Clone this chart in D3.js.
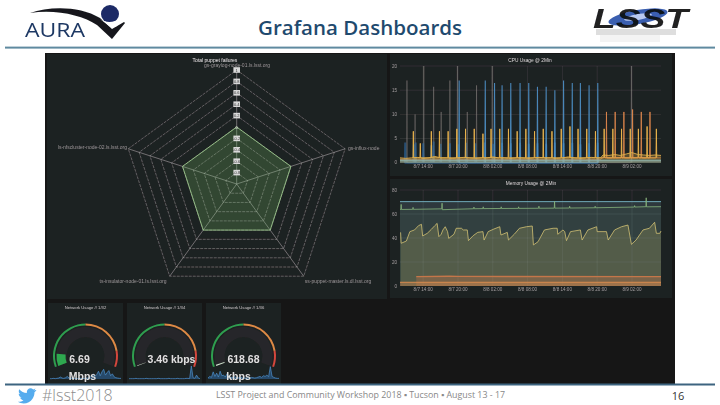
<!DOCTYPE html>
<html><head><meta charset="utf-8">
<script src="https://cdn.jsdelivr.net/npm/d3@7/dist/d3.min.js"></script>
<style>html,body{margin:0;padding:0;background:#fff;overflow:hidden}svg{display:block}text{font-family:"Liberation Sans",Arial,sans-serif}</style>
</head><body><svg id="c" width="720" height="405"></svg>
<script>
// ---------- data ----------
const slideTitle = "Grafana Dashboards";
const footerTag = "#lsst2018";
const footerText = "LSST Project and Community Workshop 2018 \u25AA Tucson \u25AA August 13 - 17";
const pageNumber = "16";

const radarTitle = "Total puppet failures";
const radarHosts = ["gs-graylog-node-01.ls.lsst.org","gs-influx-node","ss-puppet-master.ls.dl.lsst.org","ts-insulator-node-01.ls.lsst.org","ls-nfscluster-node-02.ls.lsst.org"];
const radarValues = [0,0,0,0,0];
const radarTicks = [0.8,0.6,0.4,0.2,0,-0.2,-0.4,-0.6,-0.8,1];

const timeTickHours = [4,10,16,22,28,34,40];
const timeTickLabels = ["8/7 14:00","8/7 20:00","8/8 02:00","8/8 08:00","8/8 14:00","8/8 20:00","8/9 02:00"];

const cpuTitle = "CPU Usage @ 2Min";
const cpuTicks = [0,5,10,15,20];
const cpuDimHours  = [1.2,2.6,4.1,5.8,7.1,8.6,9.9,11.6,13.2,15.9,39.9];
const cpuDimValues = [17,10,20,15.7,10.5,17,20,10.5,16,20,20];
const cpuMidHours  = [0.9,2.4,2.7,4.0,5.4,5.8,7,8.6,10,11.4,13,14.6,16,17.6,19.1,20.7,22.2,23.7,25.2,26.7,28.2,29.7,31.1,32.6,34.1];
const cpuMidValues = [4.2,3.8,4.2,4,3.6,4.4,3.9,4,3.8,4.1,4,4.2,3.9,4.1,4,4.1,3.9,4,3.9,4.2,4,4.1,3.8,4,4.1];
const cpuTallHours  = [10.2,14.7,16.3,17.6,19.1,20.7,22.2,23.7,25.2,26.7,28.2,29.7,31.1,32.6,34.1];
const cpuTallValues = [17,17,16.5,16,16.5,16.5,16.5,15.7,15.7,15,17,16.5,16.5,16,16.5];
const cpuYellowHours  = [2.3,3.5,5.4,6.8,8.3,9.8,11.3,12.8,14.3,15.7,17.2,18.7,20.2,21.7,23.2,24.7,26.2,27.8,29.3,30.7,32.2,33.7,35.2,36.7,38.2,39.7,41.1,42.6,44.2];
const cpuYellowValues = [6.5,4,6.5,6.5,6.5,7,7,7,6,7,7,7,6.5,7,6.5,7,6.5,7,7.5,7,7,6.5,7,7,7,7,7,7.5,7];
const cpuOrangeHours  = [35.6,37.1,38.6,40.1,41.6,43.1];
const cpuOrangeValues = [10.5,10.5,10.5,11,10.5,10.5];
const cpuBaseHours  = [0,1,2,3,4,5,6,7,8,9,10,11,12,13,14,15,16,17,18,19,20,21,22,23,24,25,26,27,28,29,30,31,32,33,34,34.6,35,36,37,38,39,40,41,42,43,44,45];
const cpuBaseYellow = [1,0.9,1,1.1,0.9,1,1.3,1,1,0.9,1,1.1,1,0.9,1,1,1.2,1,1,0.9,1,1,0.9,1,1.1,1,1,0.9,1,1.2,1,0.9,1,1.1,1,1,1.6,1.5,1.7,1.5,1.8,2.1,1.7,1.6,1.5,1.6,1.5];
const cpuBaseOrange = [0.7,0.7,0.7,0.7,0.7,0.7,0.7,0.7,0.7,0.7,0.7,0.7,0.7,0.7,0.7,0.7,0.7,0.7,0.7,0.7,0.7,0.7,0.7,0.7,0.7,0.7,0.7,0.7,0.7,0.7,0.7,0.7,0.7,0.7,0.7,0.7,1.1,1.0,1.0,1.1,1.0,1.0,1.1,1.0,1.0,1.0,1.0];
const cpuBaseBand = 0.5;

const memTitle = "Memory Usage @ 2Min";
const memTicks = [0,20,40,60,80];
const memSawHours  = [0.1,0.2,1.1,1.7,2.5,3.2,3.7,3.9,4.7,5.4,6,6.4,6.7,7.1,7.4,7.8,8.2,8.4,9.3,9.7,10.6,10.9,11.6,11.8,12.6,13.4,14.3,14.5,15.2,16.2,17.2,17.4,18.5,18.7,19.7,20.6,21.8,22.8,23,23.8,24.9,26.4,27.1,27.2,28.1,28.4,28.7,29.4,31.1,31.4,32.4,33.9,34,35.6,35.9,37,38.2,39.3,39.9,40.7,41.9,43,43.9,44.2,44.8,45];
const memSawValues = [44.7,35.6,37.5,45.3,46.7,50.3,51.4,41.7,43.9,47.2,50.3,52.2,41.1,43.1,46.7,49.4,45.3,39.7,43.1,48.1,48.1,46.7,46.7,37.8,41.9,44.7,45.3,38.3,45.3,47.5,49.4,42.5,44.7,38.3,43.1,48.1,49.4,50,34.2,36.9,46.7,48.1,48.1,43.1,46.7,45.3,37.8,45.3,46.7,38.3,46.7,49.4,45.3,45.3,38.3,46.7,49.4,50.8,34.7,38.3,46.7,48.1,53.1,43.9,43.9,45.8];
const memGreenHours  = [0,0.15,0.2,0.25,2.2,2.25,2.3,7.2,7.25,7.3,12.7,12.75,12.8,14.3,14.35,14.4,17.4,17.45,17.5,20.4,20.45,20.5,23.9,23.95,24,26.6,26.65,26.7,29.2,29.25,29.3,33.6,33.65,33.7,40.4,40.45,40.5,42.4,42.45,42.5,45];
const memGreenValues = [63.8,63.8,68,63.8,63.9,65.5,63.9,64.3,69,63.6,64.4,65.8,64.4,64.5,66,64.5,64.6,66,64.6,64.7,66,64.7,64.8,66.5,64.8,64.9,70.5,64.9,65,66.5,65,65.2,66.5,65.2,65.8,67,65.8,66.1,73.5,66,66.1];
const memBlueHours  = [0,45];
const memBlueValues = [70.3,70.3];
const memOrangeAHours  = [2.8,8.5,10,45];
const memOrangeAValues = [7.8,8.1,8,7.8];
const memOrangeBHours  = [0,45];
const memOrangeBValues = [3.1,3.1];

const gaugeTitles = ["Network Usage // 1/32","Network Usage // 1/34","Network Usage // 1/36"];
const gaugeNumbers = [6.69,0.00346,0.61868];
const gaugeLabels = [["6.69","Mbps"],["3.46 kbps"],["618.68","kbps"]];
const gaugeThresholds = [30,52,60];
const sparkA = [1,1,2,1,2,3,6,3,2,4,8,3,2,3,2,2,1,2,2,1,2,3,3,5,9,16,8,14,24,10,22,30,12,20,26,10,16,7,4,3,2,2];
const sparkB = [1,1,1,1,2,1,1,1,1,1,2,1,1,1,1,1,1,2,1,1,1,1,1,2,1,1,1,1,2,1,1,1,1,2,2,1,40,4,2,12,3,1];
const sparkC = [3,8,5,22,8,18,6,24,10,12,6,16,8,5,4,8,5,3,4,6,3,3,3,4,3,5,4,3,4,6,8,5,10,8,12,7,38,8,5,3,2,2];

// ---------- page ----------
const svg = d3.select("#c");
const blur = svg.append("defs").append("filter").attr("id","soft").attr("x",0).attr("y",0).attr("width",1).attr("height",1);
blur.append("feGaussianBlur").attr("stdDeviation",0.5);
svg.append("rect").attr("width",720).attr("height",405).attr("fill","#fff");

svg.append("text").attr("x",258).attr("y",35).attr("textLength",204).attr("lengthAdjust","spacingAndGlyphs").attr("fill","#1f4a6e")
  .style("font-family","'Open Sans'").style("font-weight",600).style("font-size","20px").text(slideTitle);
svg.append("rect").attr("x",5).attr("y",46.6).attr("width",710).attr("height",2).attr("fill","#5f8aa0");

// logos (decorative)
const logos = svg.append("g").attr("filter","url(#soft)");
logos.append("path").attr("fill","#15171c").attr("d","M30 13 C50 6 80 6 100 18 L112 29 L124 22 L125 23 L112 39 L97 25 C82 15 55 9 30 13Z");
logos.append("circle").attr("cx",110).attr("cy",14).attr("r",9).attr("fill","#1c2a66");
logos.append("path").attr("fill","#fff").attr("d","M100 19 C106 23 114 23 120 18 L117 26 L112 28Z");
logos.append("text").attr("x",25).attr("y",37).attr("textLength",60).attr("lengthAdjust","spacingAndGlyphs").attr("fill","#1f3864").style("font-family","'Open Sans'").style("font-size","20px").text("AURA");
const lsst = svg.append("g").attr("filter","url(#soft)");
lsst.append("ellipse").attr("cx",638).attr("cy",17).attr("rx",30).attr("ry",7).attr("transform","rotate(-10 638 17)").attr("fill","#3a5fb0");
lsst.append("ellipse").attr("cx",638).attr("cy",17).attr("rx",14).attr("ry",3).attr("transform","rotate(-10 638 17)").attr("fill","#b9c9f0");
lsst.append("text").attr("x",593).attr("y",28).attr("textLength",95).attr("lengthAdjust","spacingAndGlyphs").attr("fill","#0c0c10")
  .style("font-family","'Liberation Sans'").style("font-style","italic").style("font-weight","bold").style("font-size","28px").style("opacity",0.92).text("LSST");
lsst.append("rect").attr("x",596).attr("y",29).attr("width",80).attr("height",6).attr("fill","#888").attr("opacity",0.28);
lsst.append("rect").attr("x",600).attr("y",35).attr("width",60).attr("height",7).attr("fill","#bbb").attr("opacity",0.18);

// screen
const scr = svg.append("g").attr("filter","url(#soft)");
scr.append("rect").attr("x",45).attr("y",53).attr("width",630).attr("height",331).attr("fill","#151618");
const panels = [[47,54,340,245],[390,54,282,122],[390,179,282,119],[48,303,75,81],[127,303,75,81],[206,303,75,81]];
scr.selectAll("rect.p").data(panels).join("rect").attr("class","p")
  .attr("x",d=>d[0]).attr("y",d=>d[1]).attr("width",d=>d[2]).attr("height",d=>d[3]).attr("fill","#1f2022");

function small(g,x,y,t,anchor,fill,size){
  return g.append("text").attr("x",x).attr("y",y).attr("text-anchor",anchor||"middle")
    .attr("fill",fill||"#9a9a9a").style("font-size",(size||5)+"px").text(t);
}

// ---------- radar ----------
const rc = {x:236.7,y:184};
const rScale = d3.scaleLinear().domain([-1,1]).range([0,114]);
const angle = d3.scalePoint().domain(radarHosts).range([0,Math.PI*2*4/5]);
const radar = scr.append("g").attr("transform",`translate(${rc.x},${rc.y})`);
const radial = d3.lineRadial().curve(d3.curveLinearClosed);
const rings = [-0.8,-0.6,-0.4,-0.2,0,0.2,0.4,0.6,0.8,1];
radar.selectAll("path.ring").data(rings).join("path").attr("class","ring").attr("fill","none")
  .attr("stroke","#c9c9c9").attr("stroke-width",0.7).attr("stroke-dasharray","3 1").attr("opacity",0.55)
  .attr("d",v=>radial(radarHosts.map(h=>[angle(h),rScale(v)])));
radar.selectAll("line.sp").data(radarHosts).join("line").attr("class","sp")
  .attr("x1",0).attr("y1",0)
  .attr("x2",h=>rScale(1)*Math.sin(angle(h))).attr("y2",h=>-rScale(1)*Math.cos(angle(h)))
  .attr("stroke","#cfcfcf").attr("stroke-width",0.7).attr("opacity",0.65);
radar.append("path").attr("fill","#73bf69").attr("fill-opacity",0.24).attr("stroke","#9fd08f").attr("stroke-width",0.8)
  .attr("d",radial(radarHosts.map((h,i)=>[angle(h),rScale(radarValues[i])])));
const rt = radar.selectAll("g.t").data(radarTicks).join("g").attr("class","t").attr("transform",v=>`translate(0,${-rScale(v)})`);
rt.append("rect").attr("x",-3.3).attr("y",-2.8).attr("width",6.6).attr("height",5.6).attr("fill",v=>v===0?"none":"#d8d8d8");
rt.append("text").attr("y",1.5).attr("text-anchor","middle").attr("fill",v=>v===0?"#e6e6e6":"#333").style("font-size","4px").text(v=>v);
small(scr,215,61.5,radarTitle,"middle","#eee",5);
small(scr,237,67.4,radarHosts[0]);
small(scr,348,149.5,radarHosts[1],"start");
small(scr,338,282.5,radarHosts[2]);
small(scr,133,282.5,radarHosts[3]);
small(scr,127,148.5,radarHosts[4],"end");

// ---------- time series ----------
const xHour = d3.scaleLinear().domain([0,45]).range([400,661]);
const pts = (hs,vs)=>hs.map((h,i)=>[h,vs[i]]);
function spikes(hs,vs,base){
  const out=[]; hs.forEach((h,i)=>{out.push([h-0.06,base],[h,vs[i]],[h+0.06,base]);}); return out;
}
function axes(y,ticks,bottom,labelY){
  const g = scr.append("g");
  g.selectAll("line.h").data(ticks.slice(1)).join("line").attr("class","h")
    .attr("x1",xHour(0)).attr("x2",xHour(45)).attr("y1",d=>y(d)).attr("y2",d=>y(d)).attr("stroke","#fff").attr("opacity",0.1).attr("stroke-width",0.7);
  g.selectAll("line.v").data(timeTickHours).join("line").attr("class","v")
    .attr("x1",d=>xHour(d)).attr("x2",d=>xHour(d)).attr("y1",y(ticks[ticks.length-1])).attr("y2",bottom).attr("stroke","#fff").attr("opacity",0.1).attr("stroke-width",0.7);
  ticks.forEach(t=>small(scr,397,y(t)+1.6,t,"end","#a0a0a0",4.6));
  timeTickHours.forEach((h,i)=>small(scr,xHour(h),labelY,timeTickLabels[i],"middle","#a0a0a0",4.6));
}
function plot(points,y,color,width,fillOp,lineOp){
  const line = d3.line().x(d=>xHour(d[0])).y(d=>y(d[1]));
  const area = d3.area().x(d=>xHour(d[0])).y0(y(0)).y1(d=>y(d[1]));
  if(fillOp) scr.append("path").attr("d",area(points)).attr("fill",color).attr("opacity",fillOp);
  scr.append("path").attr("d",line(points)).attr("fill","none").attr("stroke",color).attr("stroke-width",width).attr("opacity",lineOp==null?1:lineOp);
}

const yCpu = d3.scaleLinear().domain([0,20]).range([162.7,66]);
small(scr,530,62,cpuTitle,"middle","#ddd",4.8);
axes(yCpu,cpuTicks,162.7,167.5);
plot(spikes(cpuDimHours,cpuDimValues,0),yCpu,"#8d8a85",0.9,0,0.45);
plot(spikes(cpuMidHours,cpuMidValues,0),yCpu,"#2f6ea6",2,0.25,0.6);
plot(spikes(cpuTallHours,cpuTallValues,0),yCpu,"#4d92c9",1.1,0,0.9);
plot(spikes(cpuOrangeHours,cpuOrangeValues,1),yCpu,"#d9854a",1,0,0.9);
plot(spikes(cpuYellowHours,cpuYellowValues,1),yCpu,"#e9b44c",1,0,0.95);
plot(pts(cpuBaseHours,cpuBaseOrange),yCpu,"#d9854a",0.8,0,0.9);
plot(pts(cpuBaseHours,cpuBaseYellow),yCpu,"#dfae4a",0.9,0.3,1);
plot(pts([0,45],[cpuBaseBand,cpuBaseBand]),yCpu,"#8fb0a8",1.6,0.6,0.8);

const yMem = d3.scaleLinear().domain([0,80]).range([286,190]);
small(scr,531,185,memTitle,"middle","#ddd",4.8);
axes(yMem,memTicks,286,290.5);
plot(pts(memBlueHours,memBlueValues),yMem,"#78b8c9",0.9,0.16,1);
plot(pts(memGreenHours,memGreenValues),yMem,"#86b47c",0.8,0.07,1);
plot(pts(memSawHours,memSawValues),yMem,"#d3c273",0.8,0.2,1);
plot(pts(memOrangeAHours,memOrangeAValues),yMem,"#c4764a",1.4,0.35,1);
plot(pts(memOrangeBHours,memOrangeBValues),yMem,"#d88a4e",1,0.4,1);

// ---------- gauges ----------
const gaugeAngle = d3.scaleLinear().domain([0,60]).range([-110*Math.PI/180,110*Math.PI/180]);
const gaugeColors = ["#2f9e4f","#dd8a45","#d4473d"];
const sparks = [sparkA,sparkB,sparkC];
gaugeTitles.forEach((title,i)=>{
  const p = panels[i+3], cx = p[0]+37.5, cy = 356;
  small(scr,cx,309,title,"middle","#ccc",4.2);
  // sparkline
  const sx = d3.scaleLinear().domain([0,sparks[i].length-1]).range([p[0]+2,p[0]+p[2]-2]);
  const sy = d3.scaleLinear().domain([0,40]).range([379,366]);
  const g = scr.append("g");
  g.append("path").attr("fill","#2f6ea6").attr("opacity",0.55)
    .attr("d",d3.area().x((d,j)=>sx(j)).y0(sy(0)).y1(d=>sy(d))(sparks[i]));
  g.append("path").attr("fill","none").attr("stroke","#4a90cc").attr("stroke-width",0.7)
    .attr("d",d3.line().x((d,j)=>sx(j)).y(d=>sy(d))(sparks[i]));
  const gg = scr.append("g").attr("transform",`translate(${cx},${cy})`);
  gg.append("path").attr("fill","#fff").attr("opacity",0.04)
    .attr("d",d3.arc()({innerRadius:19,outerRadius:29,startAngle:gaugeAngle(0),endAngle:gaugeAngle(60)}));
  let from = 0;
  gaugeThresholds.forEach((t,k)=>{
    gg.append("path").attr("fill",gaugeColors[k])
      .attr("d",d3.arc()({innerRadius:30.5,outerRadius:32.5,startAngle:gaugeAngle(from),endAngle:gaugeAngle(t)}));
    from = t;
  });
  const end = Math.max(gaugeAngle(gaugeNumbers[i]), gaugeAngle(0)+0.015);
  gg.append("path").attr("fill",i===0?"#2fa84f":"#cfe3cf")
    .attr("d",d3.arc()({innerRadius:20,outerRadius:29,startAngle:gaugeAngle(0),endAngle:end}));
  const lines = gaugeLabels[i];
  small(scr,cx+(i===1?7:0)+(i===0?-6:0),363,lines[0],"middle","#e0e0e0",10.5).style("font-weight","bold");
  if(lines[1]) small(scr,cx+(i===0?-3:-5),379.5,lines[1],"middle","#e0e0e0",10.5).style("font-weight","bold");
});

// bottom strip
svg.append("rect").attr("x",5).attr("y",383.5).attr("width",710).attr("height",2).attr("fill","#3d6480");
svg.append("path").attr("fill","#55acee")
  .attr("d","M36 390 c-.7.3-1.4.5-2.1.6 .8-.5 1.3-1.2 1.6-2 -.7.4-1.5.7-2.3.9 -1.5-1.6-4-1.5-5.4.1 -.9 1-1.2 2.3-.9 3.5 -3-.1-5.8-1.5-7.6-3.8 -1 1.7-.5 3.9 1.1 5 -.6 0-1.2-.2-1.7-.5 0 1.8 1.3 3.3 3 3.7 -.5.1-1.1.2-1.7.1 .5 1.5 1.9 2.6 3.5 2.6 -1.6 1.2-3.6 1.8-5.6 1.6 5 3.2 11.6 1.7 14.8-3.3 1.2-1.8 1.8-4 1.8-6.2 .8-.5 1.4-1.2 1.9-2z");
svg.append("text").attr("x",42).attr("y",400.5).attr("fill","#8c8c8c").style("font-family","'Open Sans'").style("font-weight",300).style("font-size","16px").text(footerTag);
svg.append("text").attr("x",216).attr("y",398).attr("fill","#888").attr("textLength",289).attr("lengthAdjust","spacingAndGlyphs").style("font-family","'Open Sans'").style("font-size","8.5px").text(footerText);
svg.append("text").attr("x",678).attr("y",400).attr("text-anchor","middle").attr("fill","#333").style("font-family","'Open Sans'").style("font-size","11px").text(pageNumber);
</script></body></html>
